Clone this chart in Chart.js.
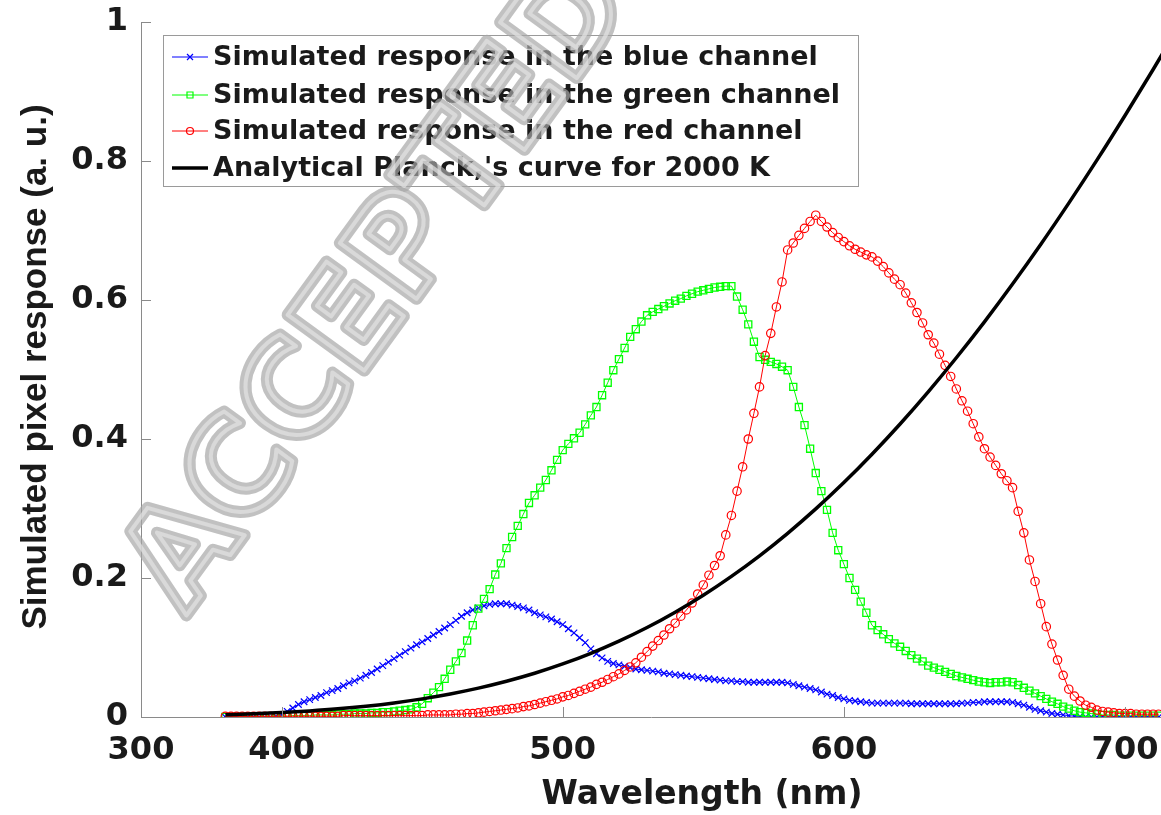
<!DOCTYPE html>
<html>
<head>
<meta charset="utf-8">
<script src="https://cdn.jsdelivr.net/npm/chart.js@4.4.1/dist/chart.umd.min.js"></script>
<style>
  html, body { margin: 0; padding: 0; background: #fff; }
  canvas { display: block; }
</style>
</head>
<body>
<canvas id="myChart" width="1161" height="815"></canvas>
<script>
// wavelength grid of the simulated channels (nm)
const wavelengths = [
  380, 382, 384, 386, 388, 390, 392, 394, 396, 398,
  400, 402, 404, 406, 408, 410, 412, 414, 416, 418,
  420, 422, 424, 426, 428, 430, 432, 434, 436, 438,
  440, 442, 444, 446, 448, 450, 452, 454, 456, 458,
  460, 462, 464, 466, 468, 470, 472, 474, 476, 478,
  480, 482, 484, 486, 488, 490, 492, 494, 496, 498,
  500, 502, 504, 506, 508, 510, 512, 514, 516, 518,
  520, 522, 524, 526, 528, 530, 532, 534, 536, 538,
  540, 542, 544, 546, 548, 550, 552, 554, 556, 558,
  560, 562, 564, 566, 568, 570, 572, 574, 576, 578,
  580, 582, 584, 586, 588, 590, 592, 594, 596, 598,
  600, 602, 604, 606, 608, 610, 612, 614, 616, 618,
  620, 622, 624, 626, 628, 630, 632, 634, 636, 638,
  640, 642, 644, 646, 648, 650, 652, 654, 656, 658,
  660, 662, 664, 666, 668, 670, 672, 674, 676, 678,
  680, 682, 684, 686, 688, 690, 692, 694, 696, 698,
  700, 702, 704, 706, 708, 710, 712
];

const blueResponse = [
  0, 0, 0, 0, 0, 0, 0, 0, 0, 0.001,
  0.003, 0.008, 0.013, 0.018, 0.022, 0.025, 0.028, 0.031, 0.035, 0.038,
  0.041, 0.045, 0.049, 0.052, 0.056, 0.060, 0.064, 0.069, 0.074, 0.079,
  0.084, 0.089, 0.094, 0.099, 0.104, 0.108, 0.113, 0.118, 0.123, 0.128,
  0.133, 0.139, 0.145, 0.150, 0.154, 0.157, 0.160, 0.162, 0.163, 0.163,
  0.163, 0.161, 0.159, 0.157, 0.154, 0.150, 0.147, 0.144, 0.141, 0.137,
  0.133, 0.127, 0.121, 0.114, 0.107, 0.098, 0.091, 0.085, 0.080, 0.077,
  0.075, 0.073, 0.071, 0.069, 0.068, 0.067, 0.066, 0.065, 0.063, 0.062,
  0.061, 0.060, 0.059, 0.058, 0.057, 0.056, 0.055, 0.054, 0.053, 0.052,
  0.052, 0.051, 0.051, 0.050, 0.050, 0.050, 0.050, 0.050, 0.050, 0.050,
  0.049, 0.047, 0.045, 0.043, 0.041, 0.039, 0.036, 0.033, 0.031, 0.028,
  0.026, 0.024, 0.023, 0.022, 0.021, 0.020, 0.020, 0.020, 0.020, 0.020,
  0.020, 0.020, 0.019, 0.019, 0.019, 0.019, 0.019, 0.019, 0.019, 0.019,
  0.019, 0.020, 0.020, 0.021, 0.021, 0.022, 0.022, 0.022, 0.022, 0.022,
  0.021, 0.019, 0.017, 0.014, 0.011, 0.009, 0.007, 0.005, 0.004, 0.003,
  0.002, 0.001, 0.001, 0, 0, 0, 0, 0, 0, 0,
  0, 0, 0, 0, 0, 0, 0
];

const greenResponse = [
  0, 0, 0, 0, 0, 0, 0, 0.001, 0.001, 0.001,
  0.001, 0.001, 0.002, 0.002, 0.002, 0.002, 0.003, 0.003, 0.003, 0.003,
  0.004, 0.004, 0.004, 0.005, 0.005, 0.005, 0.006, 0.006, 0.007, 0.007,
  0.008, 0.009, 0.010, 0.011, 0.014, 0.019, 0.027, 0.035, 0.043, 0.055,
  0.068, 0.080, 0.092, 0.110, 0.132, 0.156, 0.170, 0.184, 0.205, 0.221,
  0.243, 0.259, 0.275, 0.292, 0.308, 0.319, 0.330, 0.341, 0.355, 0.370,
  0.384, 0.393, 0.401, 0.409, 0.421, 0.434, 0.446, 0.463, 0.481, 0.499,
  0.515, 0.531, 0.547, 0.558, 0.569, 0.578, 0.583, 0.587, 0.591, 0.595,
  0.599, 0.602, 0.606, 0.609, 0.612, 0.614, 0.616, 0.618, 0.619, 0.620,
  0.620, 0.605, 0.586, 0.565, 0.540, 0.518, 0.514, 0.511, 0.508, 0.504,
  0.499, 0.475, 0.446, 0.420, 0.386, 0.351, 0.325, 0.298, 0.265, 0.240,
  0.220, 0.200, 0.183, 0.166, 0.150, 0.132, 0.125, 0.119, 0.112, 0.106,
  0.101, 0.095, 0.089, 0.084, 0.080, 0.074, 0.071, 0.068, 0.065, 0.062,
  0.059, 0.057, 0.055, 0.053, 0.051, 0.050, 0.049, 0.050, 0.050, 0.051,
  0.050, 0.046, 0.042, 0.038, 0.034, 0.030, 0.026, 0.022, 0.019, 0.015,
  0.012, 0.009, 0.007, 0.006, 0.005, 0.004, 0.003, 0.003, 0.003, 0.002,
  0.002, 0.002, 0.002, 0.002, 0.002, 0.002, 0.002
];

const redResponse = [
  0.001, 0.001, 0.001, 0.001, 0.001, 0.001, 0.001, 0.001, 0.001, 0.001,
  0.001, 0.001, 0.001, 0.001, 0.001, 0.001, 0.001, 0.001, 0.001, 0.001,
  0.001, 0.002, 0.002, 0.002, 0.002, 0.002, 0.002, 0.002, 0.002, 0.002,
  0.002, 0.002, 0.002, 0.002, 0.002, 0.002, 0.003, 0.003, 0.003, 0.003,
  0.003, 0.004, 0.004, 0.005, 0.005, 0.006, 0.007, 0.008, 0.009, 0.010,
  0.011, 0.012, 0.013, 0.015, 0.016, 0.018, 0.020, 0.022, 0.024, 0.026,
  0.029, 0.031, 0.034, 0.037, 0.040, 0.043, 0.047, 0.050, 0.054, 0.058,
  0.062, 0.067, 0.072, 0.078, 0.086, 0.094, 0.102, 0.110, 0.118, 0.127,
  0.135, 0.145, 0.154, 0.164, 0.177, 0.190, 0.204, 0.218, 0.232, 0.262,
  0.290, 0.325, 0.360, 0.400, 0.437, 0.475, 0.520, 0.552, 0.590, 0.626,
  0.672, 0.682, 0.693, 0.703, 0.713, 0.722, 0.713, 0.705, 0.697, 0.690,
  0.684, 0.678, 0.673, 0.669, 0.665, 0.662, 0.656, 0.648, 0.639, 0.630,
  0.622, 0.610, 0.596, 0.582, 0.567, 0.550, 0.538, 0.522, 0.506, 0.490,
  0.472, 0.455, 0.440, 0.422, 0.403, 0.386, 0.374, 0.362, 0.350, 0.340,
  0.330, 0.296, 0.265, 0.226, 0.195, 0.163, 0.130, 0.105, 0.082, 0.060,
  0.040, 0.030, 0.023, 0.017, 0.014, 0.010, 0.008, 0.007, 0.006, 0.005,
  0.005, 0.005, 0.004, 0.004, 0.004, 0.004, 0.004
];

// black curve, read every 10 nm
const planckWavelengths = [
  380, 390, 400, 410, 420, 430, 440, 450, 460, 470,
  480, 490, 500, 510, 520, 530, 540, 550, 560, 570,
  580, 590, 600, 610, 620, 630, 640, 650, 660, 670,
  680, 690, 700, 710, 720
];
const planckCurve = [
  0.0032, 0.0046, 0.0064, 0.0088, 0.0118, 0.0156, 0.0203, 0.0261, 0.0331, 0.0415,
  0.0514, 0.0629, 0.0763, 0.0916, 0.1091, 0.1287, 0.1508, 0.1752, 0.2023, 0.2319,
  0.2643, 0.2994, 0.3373, 0.3781, 0.4216, 0.4679, 0.5169, 0.5686, 0.6230, 0.6799,
  0.7394, 0.8012, 0.8655, 0.9317, 1.0
];

// the left end of the axis is labelled "300" in the figure
const xTickValues = [350, 400, 500, 600, 700];
const xTickLabels = ['300', '400', '500', '600', '700'];
const yTickValues = [0, 0.2, 0.4, 0.6, 0.8, 1];
const yTickLabels = ['0', '0.2', '0.4', '0.6', '0.8', '1'];

const toPoints = (xs, ys) => xs.map((x, i) => ({ x: x, y: ys[i] }));

const tickFont = { family: 'DejaVu Sans', weight: 'bold', size: 32 };
const textColor = '#1a1a1a';
const axisColor = '#8a8a8a';

// inward ticks, axis titles, boxed legend and the watermark
const decorPlugin = {
  id: 'decor',
  afterDraw(chart) {
    const ctx = chart.ctx;
    const xs = chart.scales.x, ys = chart.scales.y;
    const area = chart.chartArea;
    ctx.save();

    ctx.strokeStyle = axisColor;
    ctx.lineWidth = 1;
    ctx.beginPath();
    yTickValues.forEach(v => {
      const py = Math.round(ys.getPixelForValue(v)) + 0.5;
      ctx.moveTo(area.left, py);
      ctx.lineTo(area.left + 10, py);
    });
    xTickValues.slice(1).forEach(v => {
      const px = Math.round(xs.getPixelForValue(v)) + 0.5;
      ctx.moveTo(px, area.bottom);
      ctx.lineTo(px, area.bottom - 10);
    });
    ctx.stroke();

    // axis titles
    ctx.fillStyle = textColor;
    ctx.textAlign = 'center';
    ctx.textBaseline = 'middle';
    ctx.font = 'bold 33px "DejaVu Sans"';
    ctx.fillText('Wavelength (nm)', 702, 795);
    ctx.save();
    ctx.translate(36, 367);
    ctx.rotate(-Math.PI / 2);
    ctx.font = 'bold 35px "Liberation Sans"';
    ctx.fillText('Simulated pixel response (a. u.)', 0, 0);
    ctx.restore();

    // legend
    const box = { left: 163.5, top: 35.5, right: 858.5, bottom: 186.5 };
    ctx.fillStyle = '#ffffff';
    ctx.fillRect(box.left, box.top, box.right - box.left, box.bottom - box.top);
    ctx.strokeStyle = '#9a9a9a';
    ctx.lineWidth = 1;
    ctx.strokeRect(box.left, box.top, box.right - box.left, box.bottom - box.top);
    const rowY = [57, 95, 131, 168];
    const ds = chart.data.datasets;
    ds.forEach((d, r) => {
      const y = rowY[r];
      ctx.strokeStyle = d.borderColor;
      ctx.lineWidth = d.pointRadius ? 1 : 3.5;
      ctx.beginPath();
      ctx.moveTo(172, y);
      ctx.lineTo(208, y);
      ctx.stroke();
      if (d.pointRadius) {
        ctx.strokeStyle = d.pointBorderColor;
        ctx.lineWidth = 1.2;
        ctx.beginPath();
        if (d.pointStyle === 'crossRot') {
          ctx.moveTo(187, y - 3); ctx.lineTo(193, y + 3);
          ctx.moveTo(187, y + 3); ctx.lineTo(193, y - 3);
        } else if (d.pointStyle === 'rect') {
          ctx.rect(187, y - 3, 6, 6);
        } else {
          ctx.arc(190, y, 3.5, 0, Math.PI * 2);
        }
        ctx.stroke();
      }
      ctx.fillStyle = textColor;
      ctx.textAlign = 'left';
      ctx.textBaseline = 'middle';
      ctx.font = 'bold 27px "DejaVu Sans"';
      ctx.fillText(d.label, 213, y + 1);
    });

    // watermark
    ctx.save();
    ctx.translate(186, 616);
    ctx.rotate(-54 * Math.PI / 180);
    ctx.font = 'bold 130px "DejaVu Sans"';
    ctx.textAlign = 'left';
    ctx.textBaseline = 'alphabetic';
    ctx.lineJoin = 'round';
    ctx.globalAlpha = 0.7;
    ctx.strokeStyle = '#a6a6a6';
    ctx.lineWidth = 12;
    ctx.strokeText('ACCEPTED MANUSCRIPT', 0, 0);
    ctx.strokeStyle = '#e2e2e2';
    ctx.lineWidth = 4;
    ctx.strokeText('ACCEPTED MANUSCRIPT', 0, 0);
    ctx.restore();

    ctx.restore();
  }
};

const config = {
  type: 'line',
  data: {
    datasets: [
      {
        label: 'Simulated response in the blue channel',
        data: toPoints(wavelengths, blueResponse),
        borderColor: '#0000ff',
        borderWidth: 1,
        pointStyle: 'crossRot',
        pointRadius: 4.6,
        pointBorderColor: '#0000ff',
        pointBackgroundColor: 'rgba(0,0,0,0)',
        pointBorderWidth: 1.2,
        order: 3
      },
      {
        label: 'Simulated response in the green channel',
        data: toPoints(wavelengths, greenResponse),
        borderColor: '#00ff00',
        borderWidth: 1,
        pointStyle: 'rect',
        pointRadius: 5,
        pointBorderColor: '#00ff00',
        pointBackgroundColor: 'rgba(0,0,0,0)',
        pointBorderWidth: 1.3,
        order: 2
      },
      {
        label: 'Simulated response in the red channel',
        data: toPoints(wavelengths, redResponse),
        borderColor: '#ff0000',
        borderWidth: 1,
        pointStyle: 'circle',
        pointRadius: 4.2,
        pointBorderColor: '#ff0000',
        pointBackgroundColor: 'rgba(0,0,0,0)',
        pointBorderWidth: 1.2,
        order: 1
      },
      {
        label: "Analytical Planck,'s curve for 2000 K",
        data: toPoints(planckWavelengths, planckCurve),
        borderColor: '#000000',
        borderWidth: 3.5,
        pointRadius: 0,
        cubicInterpolationMode: 'monotone',
        order: 0
      }
    ]
  },
  options: {
    responsive: false,
    animation: false,
    layout: { autoPadding: false, padding: { top: 22, right: 0, bottom: 0, left: 0 } },
    plugins: {
      legend: { display: false },
      tooltip: { enabled: false }
    },
    scales: {
      x: {
        type: 'linear',
        min: 350,
        max: 712.8,
        afterBuildTicks: s => { s.ticks = xTickValues.map(v => ({ value: v })); },
        afterFit: s => {
          s.height = 98;
          s.paddingLeft = 0;
          s.paddingRight = 0;
        },
        grid: { display: true, drawOnChartArea: false, drawTicks: false },
        border: { display: true, color: axisColor, width: 1 },
        ticks: {
          autoSkip: false,
          maxRotation: 0,
          padding: 14,
          font: tickFont,
          color: textColor,
          callback: (v, i) => xTickLabels[i]
        }
      },
      y: {
        type: 'linear',
        min: 0,
        max: 1,
        afterBuildTicks: s => { s.ticks = yTickValues.map(v => ({ value: v })); },
        afterFit: s => {
          s.width = 141;
          s.paddingTop = 0;
          s.paddingBottom = 0;
        },
        grid: { display: true, drawOnChartArea: false, drawTicks: false },
        border: { display: true, color: axisColor, width: 1 },
        ticks: {
          padding: 13,
          font: tickFont,
          color: textColor,
          callback: (v, i) => yTickLabels[i]
        }
      }
    }
  },
  plugins: [decorPlugin]
};

const myChart = new Chart(document.getElementById('myChart'), config);
</script>
</body>
</html>
